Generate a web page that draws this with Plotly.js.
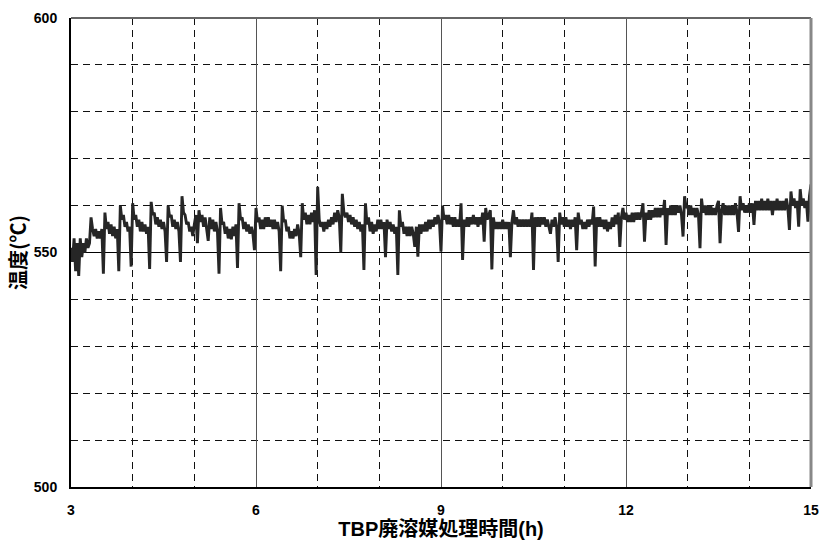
<!DOCTYPE html>
<html>
<head>
<meta charset="utf-8">
<script src="https://cdn.plot.ly/plotly-3.0.1.min.js"></script>
<style>html,body{margin:0;padding:0;background:#fff;}#chart{width:821px;height:544px;}</style>
</head>
<body>
<div id="chart"></div>
<script>
// Sampling of the temperature record (hours)
const startHour = 3;
const sampleStep = 0.025;

// Temperature readings (°C), one line per hour
const temperature = [
  // 3-4 h
  551,548,553,546,552,545,553,549,552,550,553,551,552,557.5,555,553.5,555,553,554.5,553,555,545.5,558.5,555,556.5,554,556,553.5,555.5,553,555,546,560,557,558,555.5,556.5,554.5,555.5,547,
  // 4-5 h
  560.5,557,558,555.5,557,554.5,556.5,554.5,556,554,555.5,546.5,560.8,558,558.5,556,557.5,555.5,557,555,556.5,554.5,548,560,557.5,558,555.5,557,555,556.5,554.5,548,562,558.5,558,556,556.5,554.5,555.5,553.5,
  // 5-6 h
  556,558,552,559,556.5,558,555.5,557.5,555,552.5,557.5,555,557,554.5,556.5,554.5,545.5,559.5,556,556.5,554,555.5,553,555,552.8,555.5,553.5,556,546.7,560.5,557,557.5,555,556.5,554.5,556,554,555.5,554,550.5,
  // 6-7 h
  559.5,556.5,557.5,555,557,555,557.5,555.5,557.5,555.5,557,555,557,555,556.5,554.5,546,560,556.5,557,554.5,555.5,553,554.5,553,555,553.5,556,554,549,560.5,557,558.5,556,558,556,558.5,556.5,559,545.2,
  // 7-8 h
  564,557,555.5,556.5,554.5,556.5,555,557,555.5,557.5,556,558.5,556.5,559,557.5,550,562.5,558.5,557.5,558.5,556.5,558,556,557.5,555.5,557,555,556.5,554.5,556,546.3,560.5,556,557.5,554.5,556.5,554,556,554.5,557,
  // 8-9 h
  555,557,555,556.5,549,557,555,556.5,554.5,556,554,555.5,545.2,559,555.5,556.5,554,555.5,553.5,555.5,553.5,555.5,554,551.2,555.5,549.1,556,554,556,554.5,556.5,554.5,557,555,557,555.5,557.5,556,558,556.5,
  // 9-10 h
  550.2,560,557,558,556,558,556,557.5,555.5,557.5,555.5,557,555.5,560.5,548.4,557,555.5,557.5,555.5,557.5,556,558,556,557.5,555.5,557.5,556,558.5,552.3,559.5,557,558,559,546.4,557.5,555,556.5,555,556.5,555,
  // 10-11 h
  557,555,556.5,555,556.5,549,556.5,559,556,557.5,555.5,557,555.5,557,555.5,557,555.5,557,555.5,558.5,546.3,557.5,555.5,557.5,555.5,557.5,556,557.5,555.5,557,555.5,554,557,555.5,557.5,555.5,548,558.5,556,557.5,
  // 11-12 h
  555.5,557.5,555.5,557,555,557,555.5,557.5,550.5,558.5,556,557,555,556.5,555,557,555.5,557,556,559.8,547,557.5,555.5,557.5,555.5,557,555,557,554.5,556.5,555,557.5,555.5,558,556,558.5,551.2,557.5,559.5,557,
  // 12-13 h
  558.5,556.5,558,556.5,558.5,556.5,558.5,557,558.5,557,558.5,560.5,552.3,558.5,557,559,557,559,557.5,559.5,557.5,559.5,557.5,559.5,558,561.2,551.6,559.5,558,560,558,560,558,560,558.5,560,558,553.4,562,559.5,
  // 13-14 h
  560,558,560,558,559.5,557.5,559.5,558,550.9,561.5,558.5,560,558,560,558,560,558,559.5,558,560,561,552,559,560.5,558,560,558,560,558,560,558,560.5,558.5,554.4,562,559,560.5,558.5,560,558.5,
  // 14-15 h
  560.5,558.5,560.5,555.9,561,559,561,559,561.5,559,561,559,561.5,559,561,558,561,559,561.5,559,561,559,561,559,561.5,559.5,554.8,563,560,561.5,559.5,561,555.5,563.5,560,561.5,559.5,561,556.6,562,564.5
];

const xTickVals = [3, 6, 9, 12, 15];
const yTickVals = [500, 550, 600];

const tickFont = {family: 'Liberation Sans, Arial, sans-serif', size: 14, color: '#000', weight: 'bold'};
const titleFont = {family: 'Liberation Sans, "Noto Sans CJK JP", sans-serif', size: 20, color: '#000', weight: 'bold'};

const trace = {
  type: 'scatter',
  mode: 'lines',
  x0: startHour,
  dx: sampleStep,
  y: temperature,
  line: {color: '#262626', width: 2.9, simplify: false},
  hoverinfo: 'skip'
};

const layout = {
  width: 821,
  height: 544,
  margin: {l: 71, r: 10, t: 18, b: 57},
  paper_bgcolor: '#fff',
  plot_bgcolor: '#fff',
  showlegend: false,
  xaxis: {
    range: [3, 15],
    tickvals: xTickVals,
    ticktext: xTickVals.map(String),
    ticks: '',
    tickfont: tickFont,
    ticklabelstandoff: 9,
    showline: true, linecolor: '#000', linewidth: 2,
    showgrid: true, gridcolor: '#555', gridwidth: 1,
    zeroline: false,
    minor: {dtick: 1, tick0: 3, showgrid: true, gridcolor: '#111', gridwidth: 1, griddash: '7px,5px', ticks: ''},
    title: {text: 'TBP廃溶媒処理時間(h)', font: titleFont, standoff: 4}
  },
  yaxis: {
    range: [500, 600],
    tickvals: yTickVals,
    ticktext: yTickVals.map(String),
    ticks: '',
    tickfont: tickFont,
    ticklabelstandoff: 9,
    showline: true, linecolor: '#000', linewidth: 2,
    showgrid: true, gridcolor: '#000', gridwidth: 1,
    zeroline: false,
    minor: {dtick: 10, tick0: 500, showgrid: true, gridcolor: '#111', gridwidth: 1, griddash: '7px,5px', ticks: ''},
    title: {text: '温度(℃)', font: {family: '"Noto Sans CJK JP", sans-serif', size: 20, color: '#000', weight: 'bold'}, standoff: 2}
  },
  shapes: [
    {type: 'line', xref: 'paper', yref: 'paper', x0: 0, x1: 1, y0: 1, y1: 1, line: {color: '#666', width: 2}},
    {type: 'line', xref: 'paper', yref: 'paper', x0: 1, x1: 1, y0: 0, y1: 1, line: {color: '#888', width: 3}}
  ]
};

Plotly.newPlot('chart', [trace], layout, {staticPlot: true, displayModeBar: false});
</script>
</body>
</html>
